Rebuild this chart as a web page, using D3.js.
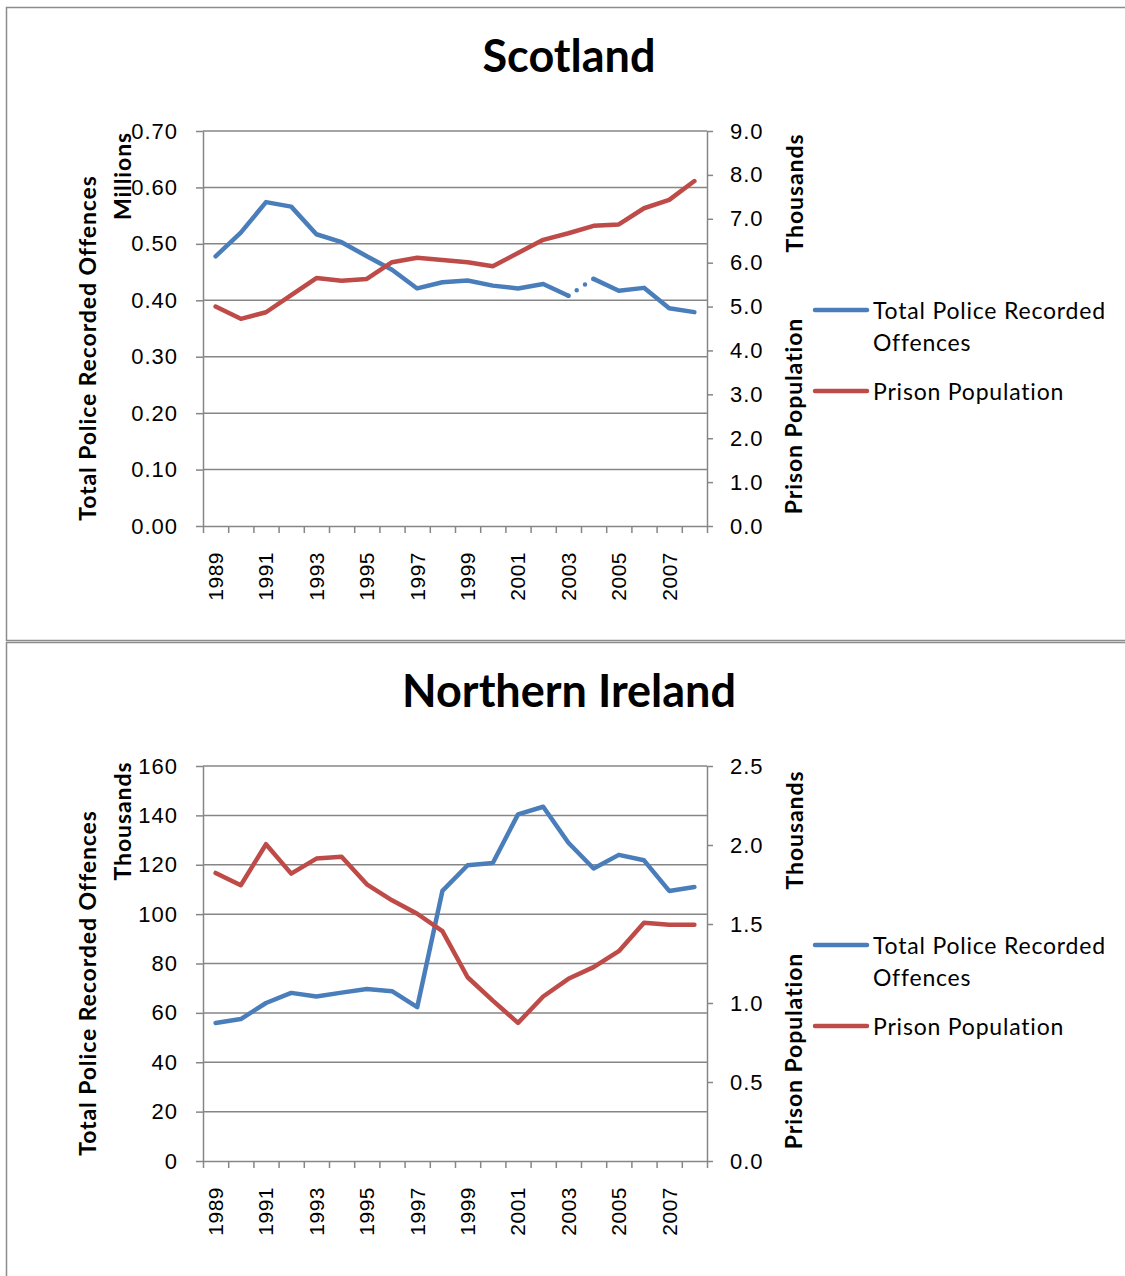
<!DOCTYPE html>
<html lang="en">
<head>
  <meta charset="UTF-8">
  <title>Scotland / Northern Ireland</title>
  <script src="https://d3js.org/d3.v7.min.js"></script>
  <style>
    * { margin: 0; padding: 0; }
    body { background: white; }
    svg { display: block; font-family: Lato, "Open Sans", sans-serif; }
    .tick line { stroke: #868686; stroke-width: 1.5; }
    .domain { stroke: #868686; stroke-width: 1.5; }
    .tick text { fill: black; font-size: 22px; letter-spacing: 1px; }
    .xlab .tick text { font-size: 21px; letter-spacing: 0.5px; }
  </style>
</head>
<body>
  <script>
    // data
    var years = [1989, 1990, 1991, 1992, 1993, 1994, 1995, 1996, 1997, 1998,
                 1999, 2000, 2001, 2002, 2003, 2004, 2005, 2006, 2007, 2008];
    var yearLabels = [1989, 1991, 1993, 1995, 1997, 1999, 2001, 2003, 2005, 2007];

    // Scotland: offences in millions, prison population in thousands
    var scotOffences = [0.478, 0.520, 0.574, 0.566, 0.517, 0.503, 0.478, 0.454, 0.421, 0.432,
                        0.435, 0.426, 0.421, 0.429, 0.408, 0.438, 0.417, 0.422, 0.386, 0.379];
    var scotPrison = [5.00, 4.72, 4.87, 5.26, 5.65, 5.59, 5.63, 6.01, 6.11, 6.06,
                      6.01, 5.92, 6.22, 6.52, 6.67, 6.84, 6.87, 7.24, 7.43, 7.86];
    var scotLeftTicks = [0, 0.1, 0.2, 0.3, 0.4, 0.5, 0.6, 0.7];
    var scotRightTicks = [0, 1, 2, 3, 4, 5, 6, 7, 8, 9];
    var scotBreakYear = 2003; // series drawn dotted from here to the next year

    // Northern Ireland: both in thousands
    var niOffences = [55.9, 57.5, 64.0, 68.1, 66.6, 68.2, 69.7, 68.8, 62.3, 109.4,
                      119.8, 120.7, 140.4, 143.5, 128.9, 118.5, 124.0, 121.8, 109.4, 111.0];
    var niPrison = [1.823, 1.745, 2.005, 1.819, 1.914, 1.925, 1.751, 1.650, 1.565, 1.455,
                    1.163, 1.015, 0.874, 1.041, 1.153, 1.227, 1.328, 1.508, 1.496, 1.496];
    var niLeftTicks = [0, 20, 40, 60, 80, 100, 120, 140, 160];
    var niRightTicks = [0, 0.5, 1.0, 1.5, 2.0, 2.5];

    var seriesNames = ['Total Police Recorded', 'Offences', 'Prison Population'];
    var blue = '#4a7ebb', red = '#be4b48', grid = '#868686';

    var svg = d3.select('body').append('svg')
      .attr('width', 1125)
      .attr('height', 1276);

    // chart frames
    svg.append('rect').attr('x', 6.5).attr('y', 7.5).attr('width', 1130).attr('height', 633)
      .attr('fill', 'none').attr('stroke', '#8c8c8c').attr('stroke-width', 1.5);
    svg.append('rect').attr('x', 6.5).attr('y', 642.5).attr('width', 1130).attr('height', 700)
      .attr('fill', 'none').attr('stroke', '#8c8c8c').attr('stroke-width', 1.5);

    function drawChart(o) {
      var g = svg.append('g').attr('transform', 'translate(0,' + o.dy + ')');
      var left = 203, right = 707, top = 131, bottom = 526;

      var x = d3.scaleBand().domain(years).range([left, right]);
      var xEdge = d3.scaleLinear().domain([0, years.length]).range([left, right]);
      var yL = d3.scaleLinear().domain(d3.extent(o.leftTicks)).range([bottom, top]);
      var yR = d3.scaleLinear().domain(d3.extent(o.rightTicks)).range([bottom, top]);
      var cx = function (i) { return x(years[i]) + x.bandwidth() / 2; };

      g.append('text')
        .attr('x', 569).attr('y', 72)
        .attr('text-anchor', 'middle')
        .style('font-size', '45px').style('font-weight', 'bold')
        .text(o.title);

      // gridlines
      g.append('g').selectAll('line')
        .data(o.leftTicks.slice(1))
        .enter().append('line')
        .attr('x1', left).attr('x2', right)
        .attr('y1', function (d) { return yL(d); })
        .attr('y2', function (d) { return yL(d); })
        .attr('stroke', grid).attr('stroke-width', 1.5);

      // axes
      g.append('g')
        .attr('transform', 'translate(' + left + ',0)')
        .call(d3.axisLeft(yL).tickValues(o.leftTicks).tickSize(7).tickPadding(18)
          .tickSizeOuter(0).tickFormat(d3.format(o.leftFormat)));

      g.append('g')
        .attr('transform', 'translate(' + right + ',0)')
        .call(d3.axisRight(yR).tickValues(o.rightTicks).tickSize(6).tickPadding(17)
          .tickSizeOuter(0).tickFormat(d3.format('.1f')));

      g.append('g')
        .attr('transform', 'translate(0,' + bottom + ')')
        .call(d3.axisBottom(xEdge).tickValues(d3.range(0, years.length + 1)).tickSize(7)
          .tickSizeOuter(0).tickFormat(''));

      var xLab = g.append('g')
        .attr('class', 'xlab')
        .attr('transform', 'translate(0,' + bottom + ')')
        .call(d3.axisBottom(x).tickValues(yearLabels).tickSize(0));
      xLab.select('.domain').remove();
      xLab.selectAll('text')
        .attr('transform', 'rotate(-90)')
        .attr('x', -26).attr('y', 0).attr('dy', '0.35em')
        .style('text-anchor', 'end');

      // series lines
      var lineL = d3.line().x(function (d) { return cx(d); }).y(function (d) { return yL(o.offences[d]); });
      var lineR = d3.line().x(function (d) { return cx(d); }).y(function (d) { return yR(o.prison[d]); });
      var idx = d3.range(years.length);

      var bi = years.indexOf(o.breakYear);
      var pieces = bi < 0 ? [idx] : [idx.slice(0, bi + 1), idx.slice(bi + 1)];
      pieces.forEach(function (p) {
        g.append('path').attr('d', lineL(p))
          .attr('fill', 'none').attr('stroke', blue).attr('stroke-width', 4.5)
          .attr('stroke-linejoin', 'round').attr('stroke-linecap', 'round');
      });
      if (bi >= 0) {
        g.append('path').attr('d', lineL([bi, bi + 1]))
          .attr('fill', 'none').attr('stroke', blue).attr('stroke-width', 4.5)
          .attr('stroke-linecap', 'round').attr('stroke-dasharray', '0 10');
      }
      g.append('path').attr('d', lineR(idx))
        .attr('fill', 'none').attr('stroke', red).attr('stroke-width', 4.5)
        .attr('stroke-linejoin', 'round').attr('stroke-linecap', 'round');

      // axis titles
      function vtext(tx, ty, s) {
        g.append('text')
          .attr('transform', 'translate(' + tx + ',' + ty + ') rotate(-90)')
          .attr('text-anchor', 'middle')
          .style('font-size', '23px').style('font-weight', 'bold')
          .style('letter-spacing', '0.9px')
          .text(s);
      }
      vtext(96, 348, 'Total Police Recorded Offences');
      vtext(131, o.leftUnitY, o.leftUnit);
      vtext(803, o.rightUnitY, 'Thousands');
      vtext(802, 416, 'Prison Population');

      // legend
      var lg = g.append('g').style('font-size', '23px').style('letter-spacing', '0.8px');
      lg.append('line').attr('x1', 815).attr('x2', 867).attr('y1', o.legY).attr('y2', o.legY)
        .attr('stroke', blue).attr('stroke-width', 4.5).attr('stroke-linecap', 'round');
      lg.append('line').attr('x1', 815).attr('x2', 867).attr('y1', o.legY + 81).attr('y2', o.legY + 81)
        .attr('stroke', red).attr('stroke-width', 4.5).attr('stroke-linecap', 'round');
      var lt = lg.append('text');
      lt.append('tspan').attr('x', 873).attr('y', o.legY + 9).text(seriesNames[0]);
      lt.append('tspan').attr('x', 873).attr('y', o.legY + 41).text(seriesNames[1]);
      lg.append('text')
        .attr('x', 873).attr('y', o.legY + 90).text(seriesNames[2]);
    }

    drawChart({
      dy: 0, title: 'Scotland',
      offences: scotOffences, prison: scotPrison,
      leftTicks: scotLeftTicks, rightTicks: scotRightTicks, leftFormat: '.2f',
      breakYear: scotBreakYear,
      leftUnit: 'Millions', leftUnitY: 176, rightUnitY: 193, legY: 310
    });

    drawChart({
      dy: 635, title: 'Northern Ireland',
      offences: niOffences, prison: niPrison,
      leftTicks: niLeftTicks, rightTicks: niRightTicks, leftFormat: 'd',
      breakYear: null,
      leftUnit: 'Thousands', leftUnitY: 186, rightUnitY: 195, legY: 310
    });
  </script>
</body>
</html>
